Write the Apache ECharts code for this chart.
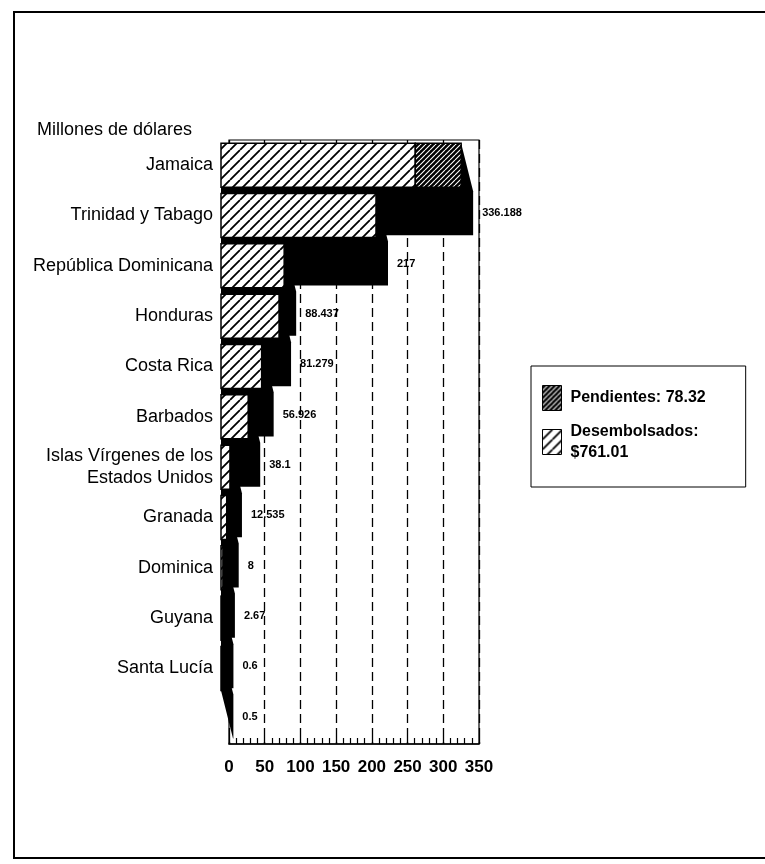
<!DOCTYPE html>
<html><head><meta charset="utf-8">
<script src="https://cdn.jsdelivr.net/npm/echarts@6/dist/echarts.min.js"></script>
<style>html,body{margin:0;padding:0;background:#fff}#c{width:765px;height:864px}</style>
</head><body><div id="c"></div>
<script>
// ---- data ----
const categories = ['Jamaica','Trinidad y Tabago','República Dominicana','Honduras','Costa Rica','Barbados','Islas Vírgenes de los\nEstados Unidos','Granada','Dominica','Guyana','Santa Lucía'];
const totals = [336.188, 217, 88.437, 81.279, 56.926, 38.1, 12.535, 8, 2.67, 0.6, 0.5];
const totalLabels = ['336.188','217','88.437','81.279','56.926','38.1','12.535','8','2.67','0.6','0.5'];
const desembolsados = [272, 217, 88.437, 81.279, 56.926, 38.1, 12.535, 8, 2.67, 0.6, 0.5];
const pendientes = [64.188, 0, 0, 0, 0, 0, 0, 0, 0, 0, 0];
const xMin = 0, xMax = 350, xStep = 50;
const seriesNames = ['Pendientes: 78.32', 'Desembolsados:\n$761.01'];
const titleText = 'Millones de dólares';

// ---- patterns ----
function hatch(size, bg, fg, lw) {
  const cv = document.createElement('canvas');
  cv.width = size; cv.height = size;
  const g = cv.getContext('2d');
  g.fillStyle = bg; g.fillRect(0, 0, size, size);
  g.strokeStyle = fg; g.lineWidth = lw;
  g.beginPath();
  for (let k = -1; k <= 1; k++) {
    g.moveTo(k * size, size); g.lineTo(k * size + size, 0);
  }
  g.stroke();
  return { image: cv, repeat: 'repeat' };
}
const lightPat = hatch(10, '#fff', '#000', 1.8);
const darkPat = hatch(5, '#000', '#fff', 1.1);

const FRONT_DX = -8, DX = 12, DY = 48, BAR_FRAC = 0.875;
const LAST = categories.length - 1;

const yCats = categories.concat(['']);

function shadowItem(params, api) {
  const i = api.value(0), v = api.value(1);
  const c0 = api.coord([0, i]), c1 = api.coord([v, i]);
  const h = api.size([0, 1])[1] * BAR_FRAC;
  const x0 = c0[0] + FRONT_DX, x1 = c1[0] + FRONT_DX;
  const yT = c0[1] - h / 2, yB = c0[1] + h / 2;
  const pts = [[x0, yT], [x1, yT], [x1 + DX, yT + DY], [x1 + DX, yB + DY]];
  if (i === LAST) { pts.push([x0 + DX, yB + DY], [x0, yB]); }
  else { pts.push([x0, yB + DY]); }
  return { type: 'group', children: [
    { type: 'polygon', shape: { points: pts }, style: { fill: '#000' } },
    { type: 'text', style: { text: totalLabels[i], x: x1 + DX + 9, y: c0[1] + DY, verticalAlign: 'middle', align: 'left',
      font: 'bold 11px "Liberation Sans", Arial', fill: '#000' } }
  ]};
}
function frontItem(pattern) {
  return function (params, api) {
    const i = api.value(0), a = api.value(1), b = api.value(2);
    if (b - a <= 0) return null;
    const ca = api.coord([a, i]), cb = api.coord([b, i]);
    const h = api.size([0, 1])[1] * BAR_FRAC;
    return { type: 'rect', shape: { x: ca[0] + FRONT_DX, y: ca[1] - h / 2, width: cb[0] - ca[0], height: h },
      style: { fill: pattern, stroke: '#000', lineWidth: 1.5 } };
  };
}

const shadowData = totals.map((v, i) => [i, v]);
const desData = desembolsados.map((v, i) => [i, 0, v]);
const penData = pendientes.map((v, i) => [i, desembolsados[i], desembolsados[i] + v]);

const chart = echarts.init(document.getElementById('c'), null, { renderer: 'canvas' });
chart.setOption({
  animation: false,
  backgroundColor: '#fff',
  textStyle: { fontFamily: '"Liberation Sans", Arial, sans-serif', color: '#000' },
  title: { text: titleText, left: 32, top: 116,
    textStyle: { fontSize: 18, fontWeight: 'normal', color: '#000', fontFamily: '"Liberation Sans", Arial' } },
  graphic: [{ type: 'rect', shape: { x: 14, y: 12, width: 800, height: 846 }, style: { fill: 'none', stroke: '#000', lineWidth: 2 }, silent: true }],
  legend: {
    orient: 'vertical', left: 531, top: 366,
    padding: [19, 40, 24, 11], itemGap: 10,
    itemWidth: 19, itemHeight: 25, icon: 'rect',
    borderColor: '#000', borderWidth: 1,
    data: seriesNames,
    textStyle: { fontSize: 16, fontWeight: 'bold', color: '#000', lineHeight: 21, padding: [0, 0, 0, 4],
      fontFamily: '"Liberation Sans", Arial' },
    itemStyle: { borderColor: '#000', borderWidth: 1 }
  },
  grid: { left: 229, right: 286, top: 140, bottom: 120, show: true, borderColor: '#000', borderWidth: 1.2, backgroundColor: 'transparent' },
  xAxis: {
    type: 'value', min: xMin, max: xMax, interval: xStep,
    axisLine: { show: true, lineStyle: { color: '#000', width: 1.5 } },
    axisTick: { show: true, inside: true, length: 7, lineStyle: { color: '#000', width: 1.3 } },
    minorTick: { show: true, splitNumber: 5, length: 6, lineStyle: { color: '#000', width: 1.2 } },
    splitLine: { show: true, lineStyle: { color: '#000', type: [9, 5], width: 1.3 } },
    axisLabel: { fontSize: 17, fontWeight: 'bold', color: '#000', margin: 15, fontFamily: '"Liberation Sans", Arial' }
  },
  yAxis: {
    type: 'category', data: yCats, inverse: true,
    axisLine: { show: false }, axisTick: { show: false },
    axisLabel: { fontSize: 18, color: '#000', margin: 16, lineHeight: 22, fontFamily: '"Liberation Sans", Arial' }
  },
  series: [
    { type: 'custom', name: 'sombra', renderItem: shadowItem, data: shadowData, encode: { x: 1, y: 0 }, silent: true },
    { type: 'custom', name: seriesNames[1], renderItem: frontItem(lightPat), data: desData, encode: { x: [1, 2], y: 0 },
      itemStyle: { color: lightPat, borderColor: '#000', borderWidth: 1 } },
    { type: 'custom', name: seriesNames[0], renderItem: frontItem(darkPat), data: penData, encode: { x: [1, 2], y: 0 },
      itemStyle: { color: darkPat, borderColor: '#000', borderWidth: 1 } }
  ]
});
</script>
</body></html>
